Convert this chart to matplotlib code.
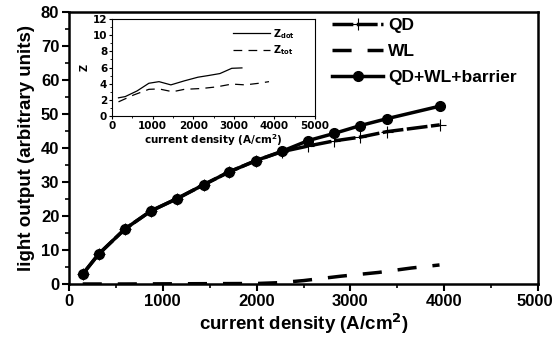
import matplotlib
matplotlib.use("Agg")
import matplotlib.pyplot as plt
from matplotlib.ticker import MultipleLocator

plt.rcParams['font.family'] = ['Liberation Sans', 'DejaVu Sans']
plt.rcParams['font.weight'] = 'bold'
plt.rcParams['mathtext.default'] = 'regular'

# ---- main data ----
qd_x = [146, 316, 597, 874, 1151, 1436, 1709, 1994, 2267, 2552, 2829, 3106, 3387, 3952]
qd_y = [2.9, 8.8, 16.2, 21.5, 25.1, 29.2, 33.0, 36.3, 38.9, 40.6, 42.1, 43.2, 44.8, 46.8]

all_x = [146, 316, 597, 874, 1151, 1436, 1709, 1994, 2267, 2552, 2829, 3106, 3387, 3952]
all_y = [2.9, 8.8, 16.2, 21.5, 25.1, 29.2, 33.0, 36.3, 39.0, 42.2, 44.3, 46.6, 48.6, 52.3]

wl_x = [146, 600, 1000, 1500, 2000, 2250, 2500, 2900, 3300, 3650, 3950]
wl_y = [0.0, 0.0, 0.05, 0.1, 0.15, 0.4, 1.0, 2.3, 3.4, 4.7, 5.6]

x_ticks = [0, 1000, 2000, 3000, 4000, 5000]
x_tick_labels = ['0', '1000', '2000', '3000', '4000', '5000']

# ---- inset data ----
zdot_x = [160, 325, 617, 908, 1158, 1450, 1783, 2117, 2367, 2658, 2950, 3200]
zdot_y = [2.25, 2.4, 3.1, 4.05, 4.25, 3.85, 4.35, 4.8, 5.0, 5.25, 5.9, 5.95]

ztot_x = [160, 533, 908, 1158, 1492, 1783, 2200, 2575, 2950, 3283, 3617, 3867]
ztot_y = [1.75, 2.6, 3.3, 3.35, 3.0, 3.3, 3.4, 3.6, 3.95, 3.85, 4.05, 4.25]

fig = plt.figure(figsize=(5.53, 3.47), dpi=100)
ax = fig.add_axes([69/553, 1-284/347, (538-69)/553, (284-12)/347])

lw = 2.5
ax.plot(wl_x, wl_y, color='black', lw=lw, dashes=(5.5, 4.6), label='WL', zorder=2)
ax.plot(qd_x, qd_y, color='black', lw=lw, dashes=(6, 1), marker='+', ms=8, mew=0.8,
        label='QD', zorder=3)
ax.plot(all_x, all_y, color='black', lw=lw, marker='o', ms=7,
        label='QD+WL+barrier', zorder=4)

ax.set_xlim(0, 5000)
ax.set_ylim(0, 80)
ax.set_xticks(x_ticks, x_tick_labels[:-1] + [''])
ax.xaxis.set_minor_locator(MultipleLocator(500))
ax.yaxis.set_major_locator(MultipleLocator(10))
ax.yaxis.set_minor_locator(MultipleLocator(5))
ax.tick_params(which='major', direction='out', length=5, width=1.5, labelsize=12, pad=2)
ax.tick_params(which='minor', direction='out', length=3, width=1.2)
for s in ax.spines.values():
    s.set_linewidth(1.8)
for lab in ax.get_xticklabels() + ax.get_yticklabels():
    lab.set_fontweight('bold')
# last x tick label, nudged so it stays inside the canvas (as in the reference)
ax.annotate(x_tick_labels[-1], xy=(x_ticks[-1], 0), xycoords=('data', 'axes fraction'),
            xytext=(-2, -7), textcoords='offset points', ha='center', va='top',
            fontsize=12, fontweight='bold')

ax.set_xlabel('current density (A/cm$^{\\mathbf{2}}$)', fontsize=13.5, fontweight='bold', labelpad=2)
ax.set_ylabel('light output (arbitrary units)', fontsize=13.5, fontweight='bold', labelpad=4)

h, l = ax.get_legend_handles_labels()
order = [1, 0, 2]
leg = ax.legend([h[i] for i in order], [l[i] for i in order], loc='upper left',
                bbox_to_anchor=((322-69)/469, 1.015), frameon=False,
                prop={'weight': 'bold', 'size': 12.5}, handlelength=2.9,
                handletextpad=0.3, labelspacing=0.6, borderaxespad=0.2)

# ---- inset ----
ins = fig.add_axes([112/553, 1-116/347, (315-112)/553, (116-19)/347])
ins.plot(zdot_x, zdot_y, color='black', lw=0.9, label='Z$_{dot}$')
ins.plot(ztot_x, ztot_y, color='black', lw=0.9, dashes=(7, 5), label='Z$_{tot}$')
ins.set_xlim(0, 5000)
ins.set_ylim(0, 12)
ins.xaxis.set_major_locator(MultipleLocator(1000))
ins.xaxis.set_minor_locator(MultipleLocator(500))
ins.yaxis.set_major_locator(MultipleLocator(2))
ins.yaxis.set_minor_locator(MultipleLocator(1))
ins.tick_params(which='major', direction='out', length=2.5, width=0.8, labelsize=7.5, pad=1)
ins.tick_params(which='minor', direction='out', length=1.5, width=0.6)
for lab in ins.get_xticklabels() + ins.get_yticklabels():
    lab.set_fontweight('bold')
    lab.set_family('DejaVu Sans')
for s in ins.spines.values():
    s.set_linewidth(0.8)
ins.set_xlabel('current density (A/cm$^{2}$)', fontsize=7.5, fontweight='bold',
               family='DejaVu Sans', labelpad=1)
ins.set_ylabel('Z', fontsize=7, fontweight='bold', family='DejaVu Sans', labelpad=2)
ins.legend(loc='upper right', bbox_to_anchor=(0.93, 0.98), frameon=False,
           prop={'weight': 'bold', 'size': 7, 'family': 'DejaVu Sans'},
           handlelength=3.8, handletextpad=0.3, labelspacing=0.25, borderaxespad=0.2)

fig.savefig('out.png', dpi=100)
